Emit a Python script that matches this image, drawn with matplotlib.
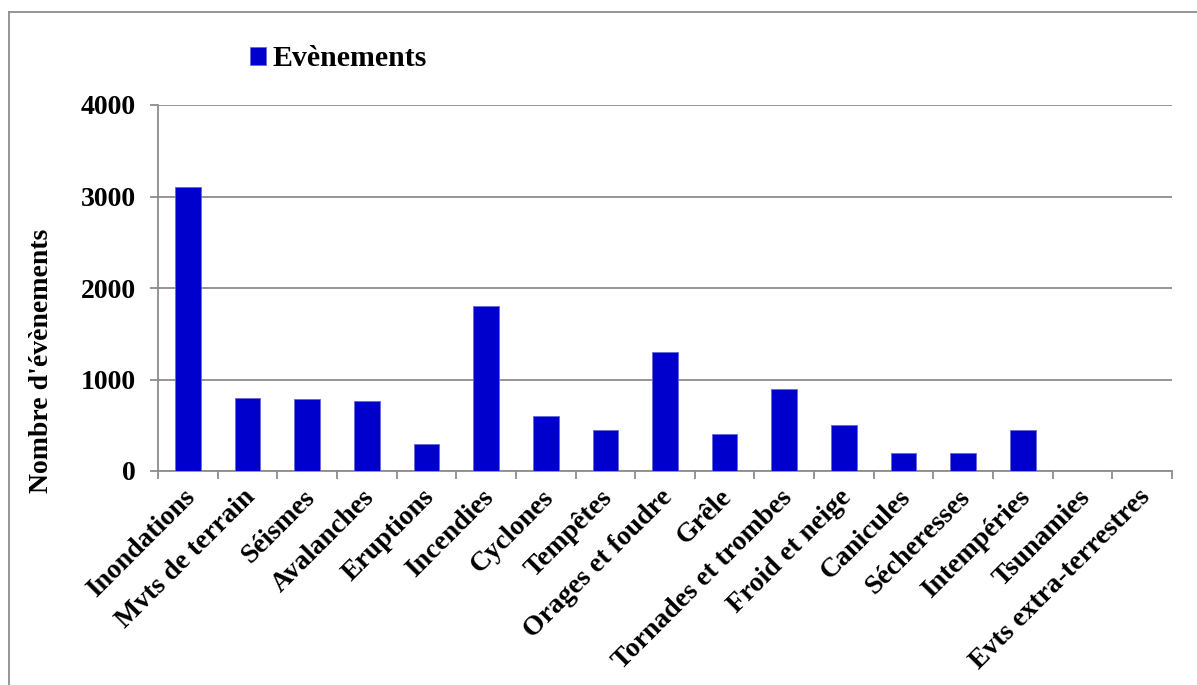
import matplotlib.pyplot as plt
import matplotlib.transforms as mtransforms
from matplotlib.lines import Line2D
import numpy as np

categories = ["Inondations", "Mvts de terrain", "Séismes", "Avalanches", "Eruptions",
              "Incendies", "Cyclones", "Tempêtes", "Orages et foudre", "Grêle",
              "Tornades et trombes", "Froid et neige", "Canicules", "Sécheresses",
              "Intempéries", "Tsunamies", "Evts extra-terrestres"]
evenements = [3100, 800, 790, 760, 300, 1800, 600, 450, 1300, 400,
              900, 500, 200, 200, 450, 0, 0]
y_ticks = [0, 1000, 2000, 3000, 4000]

plt.rcParams['font.family'] = ['Liberation Serif', 'DejaVu Serif']
plt.rcParams['font.weight'] = 'bold'

W, H = 1197, 685
fig = plt.figure(figsize=(W / 100, H / 100), dpi=100)
ax = fig.add_axes([158 / W, 1 - 471 / H, (1172 - 158) / W, (471 - 105) / H])

x = np.arange(len(categories))
bars = ax.bar(x, evenements, width=0.43, color='#0000CC', edgecolor='#6666DD',
              linewidth=0.6, zorder=3, label='Evènements')

gray = '#8C8C8C'
ax.set_xlim(-0.5, len(categories) - 0.5)
ax.set_ylim(0, 4000)
ax.set_yticks(y_ticks)
ax.set_yticklabels([str(v) for v in y_ticks], fontsize=20, fontweight='bold')
ax.yaxis.grid(True, color=gray, linewidth=1.3, zorder=0)
ax.set_axisbelow(True)

ax.set_xticks(x)
ax.set_xticklabels(categories, rotation=45, ha='right', rotation_mode='anchor',
                   fontsize=20, fontweight='bold')
ax.set_xticks(np.arange(len(categories) + 1) - 0.5, minor=True)
ax.tick_params(axis='x', which='major', length=0, pad=10)
ax.tick_params(axis='x', which='minor', length=6, color=gray, width=1.3)
ax.tick_params(axis='y', length=6, color=gray, width=1.3, pad=10)

# nudge the slanted labels a little to the left
shift = mtransforms.ScaledTranslation(-5 / 100, 0, fig.dpi_scale_trans)
for lbl in ax.get_xticklabels():
    lbl.set_transform(lbl.get_transform() + shift)

for s in ['top', 'right']:
    ax.spines[s].set_visible(False)
for s in ['left', 'bottom']:
    ax.spines[s].set_color(gray)
    ax.spines[s].set_linewidth(1.3)

ax.set_ylabel("Nombre d'évènements", fontsize=20, fontweight='bold')
ax.yaxis.set_label_coords((54 - 158) / 1014, (471 - 361) / 366)

fig.legend(handles=[bars], loc='center left', bbox_to_anchor=(250 / W, 1 - 59 / H),
           frameon=False, prop={'weight': 'bold', 'size': 21.5},
           borderaxespad=0, borderpad=0,
           handlelength=0.55, handleheight=0.55, handletextpad=0.2)

# outer chart border (top and left only visible)
fig.add_artist(Line2D([9 / W, 9 / W], [0, 1 - 12 / H], transform=fig.transFigure,
                      color=gray, linewidth=1.3))
fig.add_artist(Line2D([9 / W, 1], [1 - 12 / H, 1 - 12 / H], transform=fig.transFigure,
                      color=gray, linewidth=1.3))

fig.savefig('out.png', dpi=100)
